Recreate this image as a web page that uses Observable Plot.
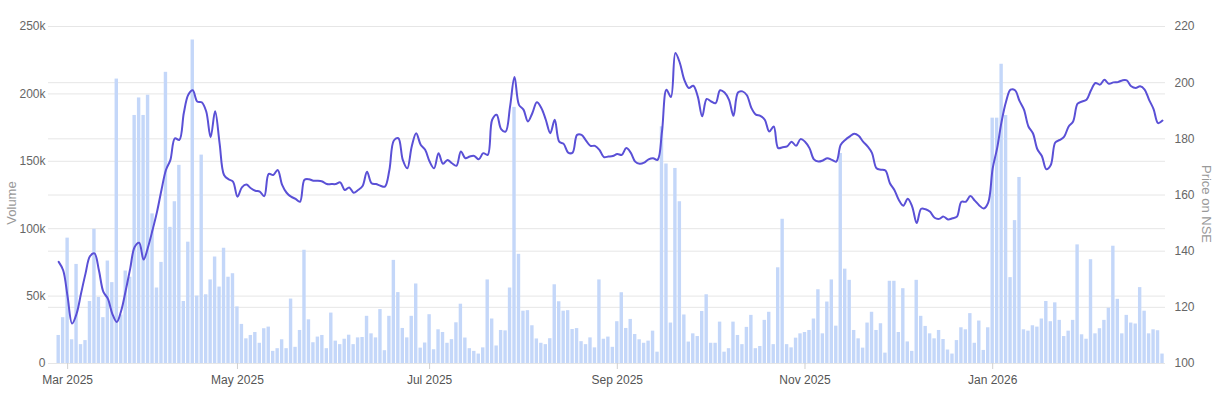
<!DOCTYPE html>
<html>
<head>
<meta charset="utf-8">
<script src="https://cdn.jsdelivr.net/npm/d3@7"></script>
<script src="https://cdn.jsdelivr.net/npm/@observablehq/plot@0.6"></script>
<style>
  html, body { margin: 0; padding: 0; background: #fff; }
  #chart { width: 1218px; height: 393px; }
</style>
</head>
<body>
<div id="chart"></div>
<script>
// Daily traded volume (thousands of shares), one value per trading day
const volumeK = [
  20.8, 34, 93, 17.6, 73.5, 14, 17, 46, 99.6, 49,
  34, 76, 60, 211, 36, 68.6, 64, 184, 197, 184,
  199, 111, 56, 75, 216, 101, 120, 147, 46, 90,
  240, 50, 154.6, 51, 62, 79, 56.7, 85.5, 64, 66.6,
  42, 29, 18.3, 20.8, 23, 15, 25.8, 27, 9, 11,
  17.6, 11, 47.8, 12, 24.5, 84, 32.4, 15.4, 19.6, 20.8,
  11, 37.4, 16.6, 14, 18, 21, 14, 19, 19.3, 35,
  22, 19, 40, 9.5, 35, 76.5, 52.6, 26, 19, 35,
  59, 11.4, 15.2, 36.2, 10.2, 25, 23, 15, 17.7, 30.2,
  44, 18.9, 11, 9, 7, 11.6, 62, 33, 13, 24.5,
  24.2, 56, 190, 81, 38.8, 39.2, 28, 18.2, 15, 14,
  18.4, 58.4, 45.8, 38.8, 39.2, 25.2, 25.9, 16.2, 14, 19,
  11.6, 62, 18, 19.6, 12, 31, 52.5, 26, 32.7, 21.5,
  17.6, 15, 16.6, 24, 8.4, 175.6, 148, 30, 144.7, 120,
  36, 15.9, 22, 20, 38.6, 51, 15, 15, 30.7, 8.4,
  11, 30.7, 20.8, 14, 26.8, 35.7, 11, 12.6, 32, 38,
  14, 71, 107, 14, 11.6, 18.8, 22, 23, 24.5, 33,
  54.7, 22, 45.6, 62, 27.7, 155.8, 70, 61.7, 24.5, 18.3,
  11.4, 30, 38, 24.5, 29.5, 7.7, 61, 61, 23, 55.5,
  16, 9, 61.7, 35, 27.5, 22, 18.3, 24.5, 17.8, 10,
  7, 17, 26.5, 25, 37, 15, 31.5, 9.7, 26.5, 182,
  182, 222, 184, 63.7, 106, 138, 25, 24, 28, 27,
  33, 46, 31, 45, 32, 20, 24, 32, 88, 21.3,
  18, 77, 22, 25.8, 32, 41, 87, 47.6, 22, 35.7,
  30, 29.3, 56.3, 38.8, 22, 25, 24.3, 7
];

// Closing price on NSE, one value per trading day
const price = [
  136.2, 133.2, 123.7, 114.2, 117.7, 124.9, 132, 138.2, 139.2, 133.2,
  125.5, 123.1, 117.7, 114.8, 118.9, 126, 133.8, 141.5, 143, 137,
  141.5, 147.5, 154, 161.8, 168.9, 172.5, 180.2, 179.6, 189.2, 195.7,
  197.3, 193.3, 193, 189.8, 180.6, 189.8, 178.5, 167.1, 165.6, 164.8,
  159.4, 162.7, 163.7, 162.4, 161.5, 161.2, 159.6, 167.5, 167.1, 168.9,
  163.6, 160.8, 159.4, 158.6, 157.6, 165.4, 165.6, 165.1, 165.1, 164.8,
  163.9, 163.9, 163.9, 164.5, 161.8, 162.7, 160.8, 161.8, 163.2, 168.3,
  164.2, 163.9, 163.3, 163, 168.9, 179.4, 180.2, 172.5, 169.5, 177.3,
  182, 177.9, 176.1, 171.9, 169.5, 174.9, 171.1, 172.5, 171.3, 170.4,
  175.5, 173.1, 173.7, 173.9, 172.7, 174.9, 174.3, 186.8, 188.6, 183.5,
  182.6, 191.5, 202, 192.1, 190.4, 186.2, 189.2, 193, 191, 186.8,
  182, 186.8, 179, 178.2, 175.1, 175.1, 181.4, 181.4, 179.4, 177.5,
  177.5, 176.1, 173.5, 173.7, 173.9, 174.6, 174.3, 176.7, 175.1, 171.9,
  171.1, 171.5, 172.7, 173.1, 172.5, 182.6, 197.5, 194.9, 210.6, 207,
  201, 198.1, 198.9, 195.1, 188, 194.2, 193.3, 192.7, 197.3, 196.5,
  193.9, 188.2, 196.5, 196.9, 195.5, 191, 188.6, 188.2, 186.8, 182.6,
  184.4, 176.7, 177, 177.3, 179, 177.5, 179.9, 179, 176.7, 172.7,
  171.9, 172.3, 173.1, 172.5, 171.9, 177.9, 179.6, 180.8, 181.8, 181.1,
  179, 177.3, 174.9, 169.5, 169, 168.7, 164.2, 161.8, 158.2, 156.2,
  158.7, 155.8, 150, 155.1, 154.9, 154, 151.9, 151.5, 152.3, 151.3,
  151.7, 152.3, 157.6, 157.6, 159.6, 158, 156.3, 155.2, 157.3, 169.5,
  176.7, 186.2, 193.3, 197.5, 197.3, 193.5, 190.4, 184.4, 182, 176.3,
  173.9, 169.2, 170.7, 178.7, 179.6, 180.8, 184.4, 186.2, 192.5, 193.3,
  193.9, 197.3, 199.9, 199.3, 201, 199.6, 200.1, 200.2, 200.8, 200.8,
  198.7, 198.1, 198.7, 197.5, 193.9, 190.6, 185.6, 186.5
];

// Month tick labels, placed at the first trading day of the month (bar index)
const monthLabels = ["Mar 2025", "May 2025", "Jul 2025", "Sep 2025", "Nov 2025", "Jan 2026"];
const monthTickIndex = [2, 40, 83, 125, 167, 209];

const volumeTicks = [0, 50000, 100000, 150000, 200000, 250000];
const priceTicks = [100, 120, 140, 160, 180, 200, 220];

// ---- build table ----
const rows = volumeK.map((v, i) => ({ i, volume: v * 1000, price: price[i] }));

// price axis (right) is mapped onto the volume axis range
const pMin = 100, pMax = 220, vMax = 250000;
const toVol = p => (p - pMin) * vMax / (pMax - pMin);
const toPrice = v => pMin + v * (pMax - pMin) / vMax;

const labelByIndex = new Map(monthTickIndex.map((k, j) => [k, monthLabels[j]]));
const n = rows.length;

const chart = Plot.plot({
  width: 1218,
  height: 393,
  marginLeft: 48,
  marginRight: 53,
  marginTop: 26,
  marginBottom: 30,
  style: { fontFamily: "'Liberation Sans', Arial, sans-serif", fontSize: "12px", color: "#666", background: "#fff" },
  x: { type: "linear", domain: [-2.28, (n - 1) + 0.67] },
  y: { domain: [0, vMax] },
  marks: [
    Plot.ruleY(volumeTicks, { stroke: "#e6e6e6" }),
    Plot.ruleY(priceTicks.map(toVol), { stroke: "#e6e6e6" }),
    Plot.rect(rows, { x1: d => d.i - 0.38, x2: d => d.i + 0.38, y1: 0, y2: "volume", fill: "#c4d7f9" }),
    Plot.line(rows, { x: "i", y: d => toVol(d.price), stroke: "#5a50d6", strokeWidth: 2, curve: "catmull-rom" }),
    Plot.axisY({ ticks: volumeTicks, tickFormat: d => d === 0 ? "0" : (d / 1000) + "k", tickSize: 0, tickPadding: 3, label: null, fill: "#666" }),
    Plot.axisY({ anchor: "right", ticks: priceTicks.map(toVol), tickFormat: v => String(Math.round(toPrice(v))), tickSize: 0, tickPadding: 9, label: null, fill: "#666" }),
    Plot.axisX({ ticks: monthTickIndex, tickFormat: d => labelByIndex.get(d), tickSize: 6, tickPadding: 6, label: null, stroke: "#d0d0d0", fill: "#555" })
  ]
});

const svg = d3.select(chart);
svg.append("text")
  .attr("transform", "translate(13,203) rotate(-90)")
  .attr("text-anchor", "middle")
  .attr("dominant-baseline", "middle")
  .attr("fill", "#999")
  .style("font-size", "13px")
  .text("Volume");
svg.append("text")
  .attr("transform", "translate(1205,204) rotate(90)")
  .attr("text-anchor", "middle")
  .attr("dominant-baseline", "middle")
  .attr("fill", "#999")
  .style("font-size", "13px")
  .text("Price on NSE");

document.getElementById("chart").appendChild(chart);
</script>
</body>
</html>
